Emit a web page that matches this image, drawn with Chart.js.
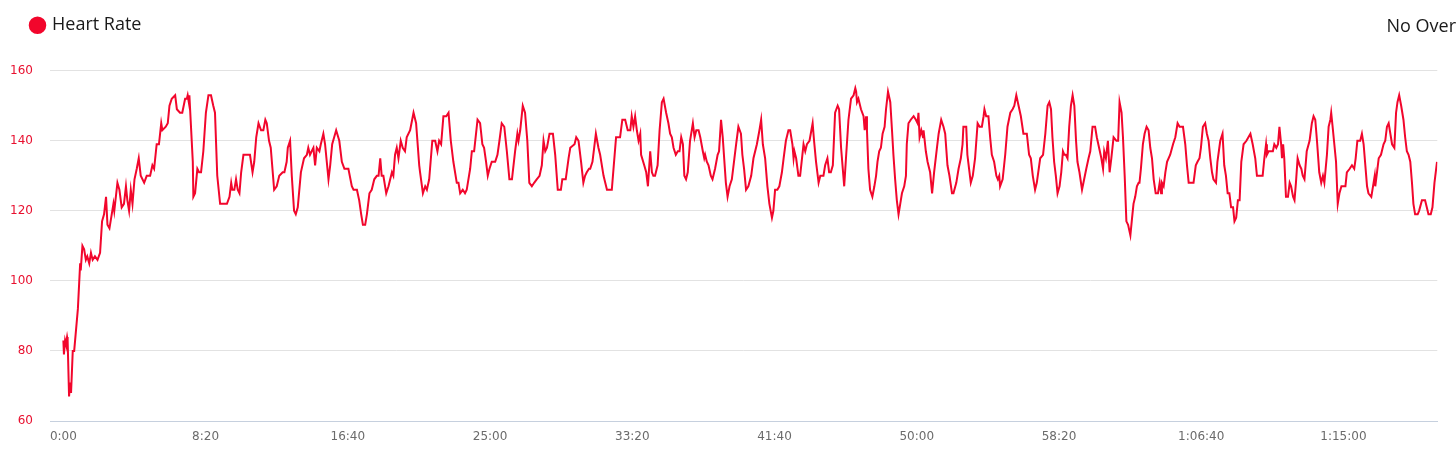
<!DOCTYPE html>
<html>
<head>
<meta charset="utf-8">
<script src="https://cdn.jsdelivr.net/npm/chart.js@4"></script>
<style>
  html, body { margin: 0; padding: 0; background: #fff; overflow: hidden; }
  #wrap { position: relative; width: 1456px; height: 456px; overflow: hidden; }
  #overlay {
    position: absolute; left: 1386.5px; top: 15.5px;
    font: 18px/18px "Open Sans", sans-serif; color: #1a1a1a; white-space: nowrap;
  }
</style>
</head>
<body>
<div id="wrap">
  <canvas id="hrChart" width="1456" height="456"></canvas>
  <div id="overlay">No Overlay</div>
</div>
<script>
// Tiempo (s) y pulsaciones
const seconds = [
  0, 2, 6, 9, 13, 15, 20, 24, 27, 33, 38, 51, 59, 61, 67, 73, 79, 84, 91, 97,
  103, 111, 120, 129, 136, 143, 150, 155, 162, 170, 176, 179, 190, 197, 205, 213, 220, 225, 231, 237,
  243, 250, 258, 265, 272, 284, 293, 305, 313, 319, 328, 336, 344, 348, 360, 367, 373, 381, 393, 399,
  410, 418, 428, 434, 437, 441, 443, 455, 457, 463, 471, 477, 484, 492, 501, 510, 519, 527, 533, 541,
  551, 557, 565, 575, 584, 590, 594, 601, 607, 613, 619, 625, 633, 656,
  665, 671, 678, 686, 695, 703, 710, 715, 723, 729, 741, 750, 759, 771, 777, 785, 789, 797, 803, 811,
  817, 824, 835, 846, 856, 861, 867, 873, 879, 885, 891, 900, 905, 914, 920, 926, 932, 938, 945, 959,
  970, 979, 988, 1002, 1014, 1020, 1032, 1040, 1047, 1053, 1061, 1067, 1076, 1084, 1093, 1102, 1108, 1114, 1119, 1125,
  1135, 1143, 1155, 1160, 1166, 1172, 1178, 1186, 1193, 1201, 1207, 1219, 1231, 1240, 1251, 1254, 1264, 1272, 1278, 1286,
  1297, 1307, 1315, 1321, 1328, 1336, 1346, 1354, 1362, 1371, 1383, 1389, 1395, 1404, 1412, 1418, 1430, 1436, 1444, 1456,
  1465, 1473, 1479, 1486, 1492, 1498, 1506, 1518, 1526, 1533, 1541, 1550, 1559, 1568, 1577, 1588, 1596, 1600, 1606, 1615,
  1623, 1631, 1638, 1647, 1655, 1664, 1674, 1682, 1688, 1694, 1700, 1709, 1721, 1729, 1738, 1749, 1754, 1766, 1776, 1782,
  1797, 1803, 1811, 1820, 1828, 1834, 1840, 1848, 1852, 1860, 1872, 1881, 1887, 1899, 1911, 1928, 1943, 1957, 1965, 1975,
  1984, 1993, 1998, 2004, 2010, 2016, 2022,
  2028, 2031, 2042, 2049, 2055, 2063, 2069, 2074, 2080, 2089, 2096, 2104, 2110, 2119, 2127, 2133, 2139, 2145, 2153, 2160,
  2166, 2172, 2178, 2183, 2189, 2195, 2203, 2213, 2219, 2225, 2233, 2239, 2248, 2253, 2256, 2262, 2268, 2276, 2282, 2291,
  2300, 2305, 2312, 2318, 2323, 2329, 2335, 2342, 2350, 2359, 2365, 2373, 2382, 2387, 2393, 2400, 2408, 2418, 2426, 2438,
  2447, 2453, 2459, 2467, 2475, 2482, 2491, 2496, 2502, 2510, 2517, 2526, 2532, 2540, 2549, 2555, 2563, 2567, 2570, 2576,
  2584, 2590, 2598, 2602, 2608, 2614, 2623, 2634, 2639, 2646, 2655, 2661, 2672, 2678, 2686, 2692, 2698, 2705, 2713, 2722,
  2727, 2734, 2745, 2752, 2760, 2769, 2778, 2784, 2787, 2790, 2795, 2804, 2813, 2817, 2822, 2825, 2830, 2836, 2844, 2851,
  2857, 2862, 2868, 2874, 2880, 2887, 2892, 2899, 2907, 2913, 2918, 2924, 2930, 2936, 2942, 2948, 2956, 2962, 2965, 2971,
  2979, 2989, 2997, 3003, 3006, 3010, 3016, 3022, 3024, 3032, 3038, 3047, 3054, 3061, 3071, 3077, 3086, 3094, 3100, 3108,
  3115, 3124, 3129, 3139, 3147, 3155, 3161, 3164, 3174, 3178, 3184, 3190, 3197, 3205, 3214, 3221, 3229, 3235, 3238, 3244,
  3252, 3258, 3264, 3272, 3280, 3285, 3290, 3293, 3302, 3311, 3319, 3329, 3337, 3343, 3350, 3358, 3366, 3375, 3387, 3395,
  3401, 3408, 3416, 3422, 3434,
  3444, 3452, 3460, 3466, 3472, 3477, 3483, 3489, 3495, 3502, 3508, 3514, 3519, 3524, 3530, 3536, 3542, 3548, 3554, 3560,
  3565, 3572, 3581, 3586, 3596, 3604, 3610, 3618, 3627, 3633, 3641, 3649, 3655, 3659, 3665, 3672, 3678, 3684, 3692, 3702,
  3708, 3713, 3720, 3725, 3731, 3737, 3743, 3751, 3757, 3762, 3768, 3774, 3780, 3783, 3788, 3795, 3801, 3808, 3815, 3821,
  3827, 3833, 3840, 3848, 3854, 3859, 3862, 3868, 3874, 3880, 3891, 3901, 3909, 3917, 3924, 3936, 3944, 3950, 3956, 3964,
  3973, 3981, 3987, 3994, 3999, 4006, 4014, 4020, 4026, 4032, 4038, 4043, 4052, 4057, 4067, 4075, 4081, 4087, 4093, 4099,
  4105, 4112, 4117, 4123, 4129, 4135, 4141, 4149, 4159, 4173, 4181, 4190, 4196, 4204, 4210, 4216, 4222, 4228, 4231, 4237,
  4245, 4252, 4257, 4264, 4270, 4275, 4281, 4284, 4288, 4292, 4298, 4305, 4311, 4316, 4323, 4328, 4333, 4339, 4346, 4352,
  4357, 4363, 4371, 4381, 4389, 4395, 4401, 4407, 4415, 4422, 4428, 4433, 4442, 4448, 4454, 4457, 4462, 4468, 4474, 4480,
  4486, 4493, 4501, 4507, 4512, 4522, 4530, 4538, 4543, 4549, 4559, 4565, 4571, 4577, 4583, 4588, 4598, 4604, 4610, 4612,
  4618, 4624, 4632, 4641, 4647, 4653, 4659, 4665, 4671, 4679, 4685, 4690, 4696, 4703, 4711, 4717, 4723, 4729, 4735, 4741,
  4746, 4752, 4761, 4766, 4776, 4787, 4793, 4799, 4807, 4813, 4820, 4829
];

const heartRate = [
  83, 79, 83, 82, 84, 83, 67, 71, 68, 80, 80, 92, 105, 103, 110, 109, 106, 107, 105, 108,
  106, 107, 106, 108, 117, 119, 124, 116, 115, 119, 122, 120, 128, 126, 121, 122, 127, 123, 120, 126,
  122, 129, 132, 135, 130, 128, 130, 130, 133, 132, 139, 139, 145, 143, 144, 145, 150, 152, 153, 149,
  148, 148, 152, 152, 153, 151, 153, 134, 124, 125, 132, 131, 131, 137, 148, 153, 153, 150, 148, 130,
  122, 122, 122, 122, 124, 128, 126, 126, 129, 126, 125, 131, 136, 136,
  131, 134, 141, 145, 143, 143, 146, 145, 140, 138, 126, 127, 130, 131, 131, 134, 138, 140, 130, 120,
  119, 121, 131, 135, 136, 138, 136, 137, 138, 133, 138, 137, 139, 142, 139, 134, 129, 133, 139, 143,
  140, 134, 132, 132, 127, 126, 126, 123, 119, 116, 116, 119, 125, 126, 129, 130, 130, 135, 130, 130,
  125, 127, 131, 130, 136, 138, 135, 140, 138, 137, 141, 143, 148, 145, 133, 131, 125, 127, 126, 129,
  140, 140, 137, 140, 139, 147, 147, 148, 140, 134, 128, 128, 125, 126, 125, 126, 132, 137, 137, 146,
  145, 139, 138, 134, 130, 132, 134, 134, 136, 140, 145, 144, 137, 129, 129, 137, 142, 140, 143, 150,
  148, 140, 128, 127, 128, 129, 130, 133, 140, 137, 138, 142, 142, 136, 126, 126, 129, 129, 135, 138,
  139, 141, 140, 134, 128, 130, 131, 132, 132, 134, 142, 138, 136, 130, 126, 126, 141, 141, 146, 146,
  143, 143, 147, 144, 147, 143, 140,
  142, 136, 133, 131, 127, 137, 131, 130, 130, 133, 143, 151, 152, 148, 145, 142, 141, 138, 136, 137,
  137, 141, 139, 130, 129, 131, 140, 145, 141, 143, 143, 141, 137, 135, 136, 134, 133, 130, 129, 132,
  136, 137, 146, 141, 135, 128, 124, 127, 129, 135, 139, 144, 142, 136, 132, 126, 127, 130, 135, 139,
  143, 146, 139, 135, 127, 122, 118, 120, 126, 126, 127, 131, 135, 140, 143, 143, 139, 135, 137, 135,
  130, 130, 136, 139, 137, 139, 140, 145, 140, 134, 128, 130, 130, 133, 135, 131, 131, 133, 148, 150,
  149, 138, 127, 136, 146, 152, 153, 155, 154, 151, 152, 149, 147, 143, 147, 143, 132, 126, 124, 127,
  130, 134, 137, 138, 142, 144, 149, 154, 151, 143, 136, 129, 123, 119, 122, 125, 127, 130, 139, 145,
  146, 147, 146, 145, 148, 141, 143, 141, 143, 137, 134, 131, 125, 131, 138, 142, 146, 144, 142, 133,
  130, 125, 125, 128, 132, 135, 139, 144, 144, 136, 132, 128, 130, 135, 145, 144, 144, 147, 149, 147,
  147, 141, 136, 134, 130, 129, 130, 127, 129, 136, 144, 148, 149, 150, 153, 150, 147, 142, 142, 136,
  135, 130, 126, 128, 135,
  136, 142, 150, 151, 149, 141, 134, 130, 125, 127, 131, 137, 136, 136, 135, 144, 150, 153, 150, 140,
  134, 131, 126, 128, 132, 135, 137, 144, 144, 141, 138, 135, 132, 137, 135, 140, 131, 135, 141, 140,
  140, 151, 148, 141, 130, 117, 116, 113, 118, 122, 124, 127, 128, 128, 132, 139, 142, 144, 143, 138,
  135, 129, 125, 125, 128, 125, 128, 127, 131, 134, 136, 139, 141, 145, 144, 144, 139, 133, 128, 128,
  128, 133, 134, 135, 138, 144, 145, 142, 140, 135, 131, 129, 128, 134, 140, 142, 133, 130, 125, 125,
  121, 121, 117, 118, 123, 123, 134, 139, 140, 142, 139, 135, 130, 130, 130, 130, 135, 139, 136, 137,
  137, 137, 139, 138, 139, 144, 139, 135, 139, 135, 124, 124, 128, 127, 124, 123, 128, 135, 133, 132,
  130, 129, 137, 140, 145, 147, 146, 140, 131, 128, 130, 128, 136, 144, 146, 148, 144, 139, 134, 122,
  125, 127, 127, 127, 131, 132, 133, 132, 135, 140, 140, 142, 139, 133, 127, 125, 124, 127, 130, 127,
  131, 135, 136, 139, 140, 144, 145, 142, 139, 138, 148, 151, 153, 150, 146, 141, 137, 136, 134, 128,
  122, 119, 119, 120, 123, 123, 121, 119, 119, 121, 128, 134
];

const tickSeconds = [0, 500, 1000, 1500, 2000, 2500, 3000, 3500, 4000, 4500];
const yTicks = [60, 80, 100, 120, 140, 160];

const hrRed = '#f2062c';

function formatTime(s) {
    const h = Math.floor(s / 3600);
    const m = Math.floor((s % 3600) / 60);
    const sec = s % 60;
    const pad = n => String(n).padStart(2, '0');
    return h > 0 ? h + ':' + pad(m) + ':' + pad(sec) : m + ':' + pad(sec);
}

// Leyenda: más espacio debajo y desplazada a la derecha
const legendPlacement = {
    id: 'legendPlacement',
    beforeInit(chart) {
        const fit = chart.legend.fit;
        chart.legend.fit = function() {
            fit.call(this);
            this.height += 26.4;
        };
    },
    afterLayout(chart) {
        chart.legend.left += 20;
    }
};

const ctx = document.getElementById('hrChart').getContext('2d');
const hrChart = new Chart(ctx, {
    type: 'line',
    data: {
        datasets: [{
            label: 'Heart Rate',
            data: seconds.map((s, i) => ({ x: s, y: heartRate[i] })),
            borderColor: hrRed,
            backgroundColor: hrRed,
            borderWidth: 2,
            pointRadius: 0,
            tension: 0,
            fill: false
        }]
    },
    options: {
        responsive: false,
        animation: false,
        layout: {
            padding: { top: 4.3, left: 0, right: 18.7, bottom: 2.6 }
        },
        scales: {
            x: {
                type: 'linear',
                min: -47,
                max: 4830,
                afterBuildTicks: scale => {
                    scale.ticks = tickSeconds.map(v => ({ value: v }));
                },
                grid: { display: false, drawTicks: false },
                border: { display: true, color: '#c6d0de', width: 1 },
                ticks: {
                    color: '#6b6b6b',
                    padding: 9,
                    maxRotation: 0,
                    autoSkip: false,
                    font: { family: 'DejaVu Sans', size: 12 },
                    callback: value => formatTime(value)
                }
            },
            y: {
                min: 60,
                max: 160,
                afterBuildTicks: scale => {
                    scale.ticks = yTicks.map(v => ({ value: v }));
                },
                afterFit: scale => { scale.width = 50; },
                grid: { color: '#e2e2e2', drawTicks: false },
                border: { display: false },
                ticks: {
                    color: '#e8102f',
                    padding: 17,
                    font: { family: 'DejaVu Sans', size: 12 }
                }
            }
        },
        plugins: {
            legend: {
                position: 'top',
                align: 'start',
                labels: {
                    usePointStyle: true,
                    pointStyle: 'circle',
                    boxWidth: 11,
                    boxHeight: 11,
                    padding: 12,
                    color: '#1a1a1a',
                    font: { family: 'Open Sans', size: 18 }
                }
            },
            tooltip: { enabled: false }
        }
    },
    plugins: [legendPlacement]
});
</script>
</body>
</html>
